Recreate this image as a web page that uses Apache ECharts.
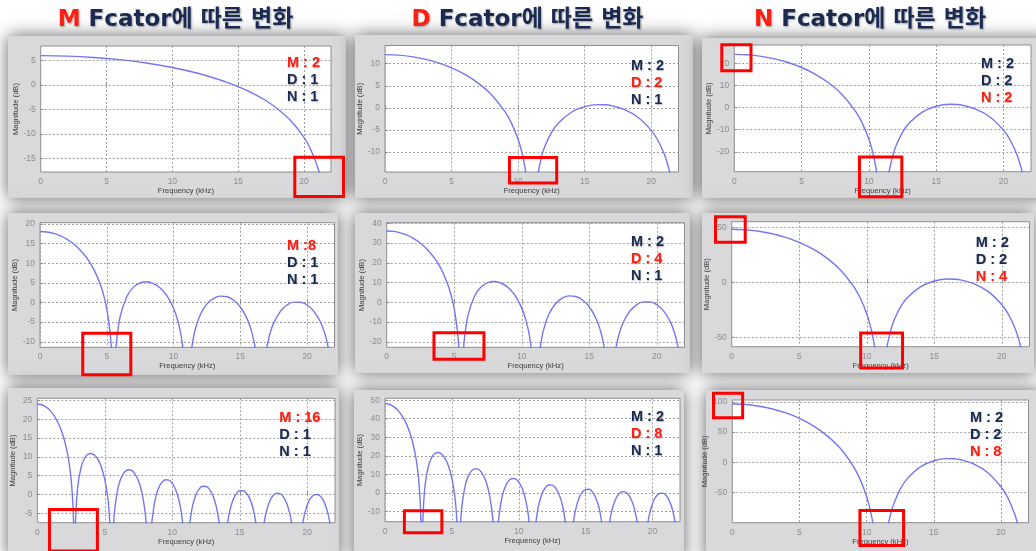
<!DOCTYPE html>
<html>
<head>
<meta charset="utf-8">
<title>CIC Filter Response</title>
<script src="https://cdn.jsdelivr.net/npm/echarts@6/dist/echarts.min.js"></script>
<style>
  html, body { margin: 0; padding: 0; background: #ffffff; }
  #chart { width: 1036px; height: 551px; }
</style>
</head>
<body>
<div id="chart"></div>
<script>
// ---------------------------------------------------------------
// Data: magnitude responses (dB) versus frequency (kHz).
// A null magnitude marks a spectral null (curve drops to -inf).
// ---------------------------------------------------------------
const FREQ_MAX = 22.05;
const freqTicks = [0, 5, 10, 15, 20];

const columnLetters = ['M', 'D', 'N'];
const columnTitle = 'Fcator에 따른 변화';

// M = 2, D = 1, N = 1
const freqM2 = [0, 2, 4, 6, 8, 10, 12, 14, 15, 16, 17, 18, 19, 20, 20.5, 21, 21.3];
const magM2 = [6.02, 5.93, 5.66, 5.2, 4.53, 3.6, 2.36, 0.71, -0.32, -1.54, -3.01, -4.9, -7.31, -10.72, -13.14, -16.51, -19.43];
const yTicksM2 = [-15, -10, -5, 0, 5];
const labelsM2 = ['M : 2', 'D : 1', 'N : 1'];

// M = 8, D = 1, N = 1
const freqM8 = [0, 0.5, 1, 1.5, 2, 2.5, 3, 3.5, 4, 4.5, 4.8, 5, 5.2, 5.3, 5.35, 5.51,
  5.68, 5.75, 6, 6.5, 7, 7.5, 8, 8.5, 9, 9.5, 10, 10.3, 10.5, 10.6, 10.75, 11.03,
  11.35, 11.4, 11.6, 12, 12.5, 13, 13.5, 14, 14.5, 15, 15.5, 15.8, 16, 16.15, 16.54,
  16.95, 17, 17.2, 17.5, 18, 18.5, 19, 19.5, 20, 20.5, 21, 21.3, 21.5, 21.6];
const magM8 = [18.06, 17.95, 17.59, 16.99, 16.12, 14.94, 13.38, 11.35, 8.63, 4.77, 1.42, -1.67, -6.21, -9.69, -12.09, null,
  -12.31, -9.40, -3.59, 1.54, 3.91, 5.00, 5.26, 4.82, 3.69, 1.72, -1.48, -4.45, -7.27, -9.12, -12.95, null,
  -11.88, -10.68, -7.18, -3.11, -0.36, 1.05, 1.61, 1.45, 0.58, -1.14, -4.10, -6.90, -9.58, -12.40, null,
  -12.07, -11.11, -8.14, -5.19, -2.24, -0.64, 0.09, 0.08, -0.63, -2.19, -4.96, -7.64, -10.22, -11.91];
const yTicksM8 = [-10, -5, 0, 5, 10, 15, 20];
const labelsM8 = ['M :8', 'D : 1', 'N : 1'];

// M = 16, D = 1, N = 1
const freqM16 = [0, 0.25, 0.5, 0.75, 1, 1.25, 1.5, 1.75, 2, 2.25, 2.4, 2.5, 2.6, 2.65, 2.7, 2.76,
  2.8, 2.85, 3, 3.25, 3.5, 3.75, 4, 4.25, 4.5, 4.75, 5, 5.2, 5.3, 5.4, 5.51,
  5.6, 5.65, 5.75, 6, 6.25, 6.5, 6.75, 7, 7.25, 7.5, 7.75, 8, 8.1, 8.27,
  8.45, 8.5, 8.75, 9, 9.25, 9.5, 9.75, 10, 10.25, 10.5, 10.7, 10.8, 11.03,
  11.25, 11.3, 11.5, 11.75, 12, 12.25, 12.5, 12.75, 13, 13.25, 13.5, 13.78,
  14.05, 14.1, 14.25, 14.5, 14.75, 15, 15.25, 15.5, 15.75, 16, 16.25, 16.54,
  16.75, 16.85, 17, 17.25, 17.5, 17.75, 18, 18.25, 18.5, 18.75, 18.9, 19.29,
  19.6, 19.7, 19.75, 20, 20.25, 20.5, 20.75, 21, 21.25, 21.5, 21.7];
const magM16 = [24.08, 23.96, 23.61, 23.0, 22.12, 20.93, 19.36, 17.3, 14.56, 10.68, 7.31, 4.22, -0.34, -3.83, -9.5, null,
  -11.98, -5.53, 2.23, 7.33, 9.65, 10.71, 10.92, 10.43, 9.26, 7.24, 3.98, -0.33, -3.74, -9.36, null,
  -11.82, -7.99, -3.46, 2.09, 4.76, 6.11, 6.58, 6.34, 5.38, 3.57, 0.53, -5.06, -9.11, null,
  -8.82, -6.78, -0.98, 1.85, 3.34, 3.94, 3.82, 2.97, 1.28, -1.64, -5.61, -8.77, null,
  -9.04, -7.37, -3.03, -0.08, 1.5, 2.18, 2.14, 1.37, -0.24, -3.07, -8.32, null,
  -8.91, -7.51, -4.44, -1.4, 0.25, 1.0, 1.02, 0.32, -1.23, -3.97, -9.09, null,
  -8.85, -6.51, -4.05, -1.52, -0.15, 0.38, 0.2, -0.73, -2.57, -5.84, -9.11, null,
  -9.18, -6.87, -5.95, -2.75, -0.98, -0.11, 0.0, -0.6, -2.03, -4.63, -8.22];
const yTicksM16 = [-5, 0, 5, 10, 15, 20, 25];
const labelsM16 = ['M : 16', 'D : 1', 'N : 1'];

// M = 2, D = 2, N = 1
const freqD2 = [0, 1, 2, 3, 4, 5, 6, 7, 8, 9, 9.5, 10, 10.3, 10.5, 10.6, 11.03,
  11.45, 11.55, 11.8, 12, 12.5, 13, 14, 15, 16, 16.5, 17, 18, 19, 20, 20.5, 21, 21.3, 21.5];
const magD2 = [12.04, 11.93, 11.59, 11.02, 10.19, 9.06, 7.56, 5.6, 2.97, -0.8, -3.46, -7.12, -10.28, -13.19, -15.08, null,
  -15.6, -13.83, -10.63, -8.79, -5.59, -3.51, -0.99, 0.29, 0.74, 0.7, 0.5, -0.41, -2.13, -5.09, -7.33, -10.59, -13.46, -16.13];
const yTicksD2 = [-10, -5, 0, 5, 10];
const labelsD2 = ['M : 2', 'D : 2', 'N : 1'];

// M = 2, D = 4, N = 1
const freqD4 = freqM8;
const magD4 = [36.12, 35.9, 35.18, 33.98, 32.24, 29.88, 26.76, 22.7, 17.26, 9.54, 2.84, -3.34, -12.42, -19.38, -24.18, null,
  -24.62, -18.8, -7.18, 3.08, 7.82, 10.0, 10.52, 9.64, 7.38, 3.44, -2.96, -8.9, -14.54, -18.24, -25.9, null,
  -23.76, -21.36, -14.36, -6.22, -0.72, 2.1, 3.22, 2.9, 1.16, -2.28, -8.2, -13.8, -19.16, -24.8, null,
  -24.14, -22.22, -16.28, -10.38, -4.48, -1.28, 0.18, 0.16, -1.26, -4.38, -9.92, -15.28, -20.44, -23.82];
const yTicksD4 = [-20, -10, 0, 10, 20, 30, 40];
const labelsD4 = ['M : 2', 'D : 4', 'N : 1'];

// M = 2, D = 8, N = 1
const freqD8 = freqM16;
const magD8 = [48.16, 47.92, 47.22, 46.0, 44.24, 41.86, 38.72, 34.6, 29.12, 21.36, 14.62, 8.44, -0.68, -7.66, -19.0, null,
  -23.96, -11.06, 4.46, 14.66, 19.3, 21.42, 21.84, 20.86, 18.52, 14.48, 7.96, -0.66, -7.48, -18.72, null,
  -23.64, -15.98, -6.92, 4.18, 9.52, 12.22, 13.16, 12.68, 10.76, 7.14, 1.06, -10.12, -18.22, null,
  -17.64, -13.56, -1.96, 3.7, 6.68, 7.88, 7.64, 5.94, 2.56, -3.28, -11.22, -17.54, null,
  -18.08, -14.74, -6.06, -0.16, 3.0, 4.36, 4.28, 2.74, -0.48, -6.14, -16.64, null,
  -17.82, -15.02, -8.88, -2.8, 0.5, 2.0, 2.04, 0.64, -2.46, -7.94, -18.18, null,
  -17.7, -13.02, -8.1, -3.04, -0.3, 0.76, 0.4, -1.46, -5.14, -11.68, -18.22, null,
  -18.36, -13.74, -11.9, -5.5, -1.96, -0.22, 0.0, -1.2, -4.06, -9.26, -16.44];
const yTicksD8 = [-10, 0, 10, 20, 30, 40, 50];
const labelsD8 = ['M : 2', 'D : 8', 'N : 1'];

// M = 2, D = 2, N = 2
const freqN2 = freqD2;
const magN2 = [24.08, 23.86, 23.18, 22.04, 20.38, 18.12, 15.12, 11.2, 5.94, -1.6, -6.92, -14.24, -20.56, -26.38, -30.16, null,
  -31.2, -27.66, -21.26, -17.58, -11.18, -7.02, -1.98, 0.58, 1.48, 1.4, 1.0, -0.82, -4.26, -10.18, -14.66, -21.18, -26.92, -32.26];
const yTicksN2 = [-20, -10, 0, 10, 20];
const labelsN2 = ['M : 2', 'D : 2', 'N : 2'];

// M = 2, D = 2, N = 4
const freqN4 = freqD2;
const magN4 = [48.16, 47.72, 46.36, 44.08, 40.76, 36.24, 30.24, 22.4, 11.88, -3.2, -13.84, -28.48, -41.12, -52.76, -60.32, null,
  -62.4, -55.32, -42.52, -35.16, -22.36, -14.04, -3.96, 1.16, 2.96, 2.8, 2.0, -1.64, -8.52, -20.36, -29.32, -42.36, -53.84, -64.52];
const yTicksN4 = [-50, 0, 50];
const labelsN4 = ['M : 2', 'D : 2', 'N : 4'];

// M = 2, D = 2, N = 8
const freqN8 = [0, 1, 2, 3, 4, 5, 6, 7, 8, 9, 9.5, 10, 10.3, 10.4, 10.5, 11.03,
  11.55, 11.65, 11.8, 12, 12.5, 13, 14, 15, 16, 16.5, 17, 18, 19, 20, 20.5, 21, 21.2, 21.3];
const magN8 = [96.32, 95.44, 92.72, 88.16, 81.52, 72.48, 60.48, 44.8, 23.76, -6.4, -27.68, -56.96, -82.24, -92.96, -105.52, null,
  -110.64, -99.12, -85.04, -70.32, -44.72, -28.08, -7.92, 2.32, 5.92, 5.6, 4.0, -3.28, -17.04, -40.72, -58.64, -84.72, -99.12, -107.68];
const yTicksN8 = [-50, 0, 50, 100];
const labelsN8 = ['M : 2', 'D : 2', 'N : 8'];

// ---------------------------------------------------------------
// Layout of the nine panels (pixels) and their axis ranges.
// boxes: highlighted regions in data units [x0, x1, y0, y1].
// ---------------------------------------------------------------
const panels = [
  { freq: freqM2, mag: magM2, yTicks: yTicksM2, labels: labelsM2, red: 0, yMin: -17.8, yMax: 8,
    card: [8, 36, 338, 162], grid: [40.7, 46, 290.3, 126], text: [287, 63.3], boxes: [[19.3, 23.0, -22.8, -14.8]] },
  { freq: freqM8, mag: magM8, yTicks: yTicksM8, labels: labelsM8, red: 0, yMin: -11.4, yMax: 20.3,
    card: [8, 213, 330, 162], grid: [40, 222.7, 294.5, 124.6], text: [287, 245.7], boxes: [[3.2, 6.8, -18.4, -7.8]] },
  { freq: freqM16, mag: magM16, yTicks: yTicksM16, labels: labelsM16, red: 0, yMin: -7.5, yMax: 25.6,
    card: [8, 388, 331, 170], grid: [37.3, 398.3, 297.7, 124.4], text: [279.3, 417.7], boxes: [[0.9, 4.45, -15, -4.0]] },
  { freq: freqD2, mag: magD2, yTicks: yTicksD2, labels: labelsD2, red: 1, yMin: -14.5, yMax: 14.1,
    card: [355, 35, 338, 163], grid: [385, 45.5, 293.5, 126.5], text: [631, 66], boxes: [[9.35, 12.9, -17, -11.2]] },
  { freq: freqD4, mag: magD4, yTicks: yTicksD4, labels: labelsD4, red: 1, yMin: -22.8, yMax: 40.3,
    card: [355, 213, 335, 160], grid: [386.7, 222.7, 297.8, 124.6], text: [631, 242.3], boxes: [[3.5, 7.2, -28.9, -15.4]] },
  { freq: freqD8, mag: magD8, yTicks: yTicksD8, labels: labelsD8, red: 1, yMin: -15.4, yMax: 51,
    card: [354, 390, 330, 170], grid: [385, 398.3, 295, 123.4], text: [631, 417.3], boxes: [[1.45, 4.25, -21.3, -9.5]] },
  { freq: freqN2, mag: magN2, yTicks: yTicksN2, labels: labelsN2, red: 2, yMin: -29, yMax: 28.3,
    card: [702, 38, 345, 160], grid: [734.3, 45, 296.7, 126.7], text: [981, 64],
    boxes: [[-0.93, 1.24, 16.6, 28.4], [9.3, 12.45, -40.3, -22.4]] },
  { freq: freqN4, mag: magN4, yTicks: yTicksN4, labels: labelsN4, red: 2, yMin: -58.5, yMax: 55,
    card: [702, 213, 332, 160], grid: [731.7, 221.7, 297.8, 125], text: [975.7, 242.7],
    boxes: [[-1.2, 1.0, 36.4, 59.5], [9.55, 12.65, -77.8, -46]] },
  { freq: freqN8, mag: magN8, yTicks: yTicksN8, labels: labelsN8, red: 2, yMin: -100.3, yMax: 103,
    card: [706, 390, 335, 170], grid: [732.3, 400, 296.2, 122.7], text: [970, 417.7],
    boxes: [[-1.4, 0.77, 73.5, 114], [9.5, 12.75, -138, -80]] }
];

const titleCenters = [175.5, 527.5, 870];

const FONT_LATIN = "'Liberation Sans', Arial, sans-serif";
const FONT_TITLE = "'DejaVu Sans', 'Noto Sans CJK KR', sans-serif";
const NAVY = '#1b2a52';
const RED = '#ff1e12';
const CURVE = '#7676f2';

const grids = [], xAxes = [], yAxes = [], series = [], elements = [];

panels.forEach((p, i) => {
  // grey figure card with soft drop shadow
  elements.push({
    type: 'rect', z: -10,
    shape: { x: p.card[0], y: p.card[1], width: p.card[2], height: p.card[3] },
    style: { fill: '#d9d9db', shadowBlur: 16, shadowColor: 'rgba(0,0,0,0.62)' }
  });

  grids.push({
    left: p.grid[0], top: p.grid[1], width: p.grid[2], height: p.grid[3],
    show: true, backgroundColor: '#ffffff', borderColor: '#8e8e8e', borderWidth: 1, containLabel: false
  });

  xAxes.push({
    type: 'value', gridIndex: i, min: 0, max: FREQ_MAX,
    name: 'Frequency (kHz)', nameLocation: 'middle', nameGap: 14,
    nameTextStyle: { fontSize: 7.6, color: '#3c3c3c', fontFamily: FONT_LATIN },
    axisLine: { show: false },
    axisTick: { show: true, inside: true, length: 3, customValues: freqTicks, lineStyle: { color: '#8e8e8e' } },
    axisLabel: { customValues: freqTicks, fontSize: 8.5, color: '#8c8c8c', margin: 5, fontFamily: FONT_LATIN },
    splitLine: { show: true, lineStyle: { color: '#a0a0a0', width: 1, type: [2, 2] } }
  });

  yAxes.push({
    type: 'value', gridIndex: i, min: p.yMin, max: p.yMax,
    name: 'Magnitude (dB)', nameLocation: 'middle', nameGap: 20,
    nameTextStyle: { fontSize: 7.6, color: '#3c3c3c', fontFamily: FONT_LATIN },
    axisLine: { show: false },
    axisTick: { show: true, inside: true, length: 3, customValues: p.yTicks, lineStyle: { color: '#8e8e8e' } },
    axisLabel: { customValues: p.yTicks, fontSize: 8.5, color: '#8c8c8c', margin: 5, fontFamily: FONT_LATIN },
    splitLine: { show: true, lineStyle: { color: '#a0a0a0', width: 1, type: [2, 2] } }
  });

  // magnitude response curve
  series.push({
    type: 'line', xAxisIndex: i, yAxisIndex: i,
    data: p.freq.map((f, k) => [f, p.mag[k]]),
    smooth: 0.4, connectNulls: false,
    showSymbol: false, symbol: 'none', clip: true, silent: true,
    lineStyle: { color: CURVE, width: 1.4 },
    z: 3
  });

  // parameter labels
  p.labels.forEach((txt, k) => {
    elements.push({
      type: 'text', z: 20,
      x: p.text[0], y: p.text[1] + k * 17,
      style: {
        text: txt, fill: k === p.red ? RED : NAVY,
        fontSize: 14.5, fontWeight: 'bold', fontFamily: FONT_LATIN,
        align: 'left', verticalAlign: 'middle',
        textShadowColor: 'rgba(0,0,0,0.3)', textShadowBlur: 1.5, textShadowOffsetX: 0.5, textShadowOffsetY: 0.5
      }
    });
  });
});

// column titles
columnLetters.forEach((letter, c) => {
  const part = (color) => ({
    fill: color, fontSize: 23, fontWeight: 'bold', fontFamily: FONT_TITLE,
    textShadowColor: 'rgba(0,0,0,0.35)', textShadowBlur: 2, textShadowOffsetX: 1, textShadowOffsetY: 1
  });
  elements.push({
    type: 'text', z: 20, x: titleCenters[c], y: 20,
    style: {
      text: '{r|' + letter + '} {n|' + columnTitle + '}',
      fontSize: 23, fontWeight: 'bold', fontFamily: FONT_TITLE,
      align: 'center', verticalAlign: 'middle',
      rich: { r: part(RED), n: part(NAVY) }
    }
  });
});

const chart = echarts.init(document.getElementById('chart'));
chart.setOption({
  animation: false,
  backgroundColor: '#ffffff',
  grid: grids,
  xAxis: xAxes,
  yAxis: yAxes,
  series: series,
  graphic: { elements: elements }
});

// red highlight boxes, placed through each panel's own axes
const boxElements = [];
panels.forEach((p, i) => {
  p.boxes.forEach(b => {
    const a = chart.convertToPixel({ gridIndex: i }, [b[0], b[3]]);
    const c = chart.convertToPixel({ gridIndex: i }, [b[1], b[2]]);
    boxElements.push({
      type: 'rect', z: 30, silent: true,
      shape: { x: a[0], y: a[1], width: c[0] - a[0], height: c[1] - a[1] },
      style: { fill: 'none', stroke: '#ff0000', lineWidth: 3 }
    });
  });
});
chart.setOption({ graphic: { elements: elements.concat(boxElements) } });
</script>
</body>
</html>
